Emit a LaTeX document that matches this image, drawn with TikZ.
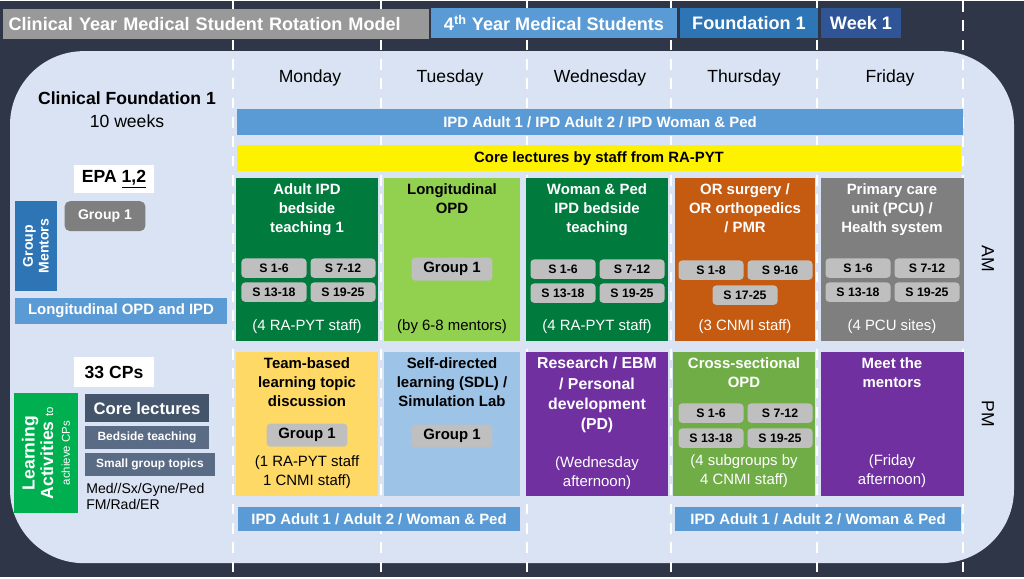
\documentclass[tikz,border=0pt]{standalone}
\usepackage{fontspec}
\setmainfont{Liberation Sans}
\definecolor{bgdark}{HTML}{2E3648}
\definecolor{panel}{HTML}{DAE3F3}
\definecolor{lblue}{HTML}{5B9BD5}
\definecolor{mblue}{HTML}{2E75B6}
\definecolor{dblue}{HTML}{2F5597}
\definecolor{dgreen}{HTML}{007A3D}
\definecolor{lgreen}{HTML}{92D050}
\definecolor{orng}{HTML}{C55A11}
\definecolor{gry}{HTML}{7F7F7F}
\definecolor{ylw}{HTML}{FFD966}
\definecolor{pblue}{HTML}{9DC3E6}
\definecolor{purp}{HTML}{7030A0}
\definecolor{mgreen}{HTML}{70AD47}
\definecolor{badge}{HTML}{BFBFBF}
\definecolor{slate}{HTML}{44546A}
\definecolor{slate2}{HTML}{5A6B85}
\definecolor{lagreen}{HTML}{00B050}
\begin{document}
\begin{tikzpicture}[x=0.02cm,y=-0.02cm,
    every node/.style={align=center,inner sep=0pt},
    bar/.style={fill=lblue,text=white,font=\fontsize{8.5}{10}\selectfont\bfseries},
    title/.style={anchor=north,font=\fontsize{8.5}{10.8}\selectfont\bfseries},
    note/.style={font=\fontsize{8.5}{10.8}\selectfont},
    sbadge/.style={fill=badge,rounded corners=2pt,minimum width=37pt,minimum height=11pt,font=\fontsize{7}{8}\selectfont\bfseries},
    gbadge/.style={fill=badge,rounded corners=2pt,minimum width=46pt,minimum height=13pt,font=\fontsize{8.5}{10}\selectfont\bfseries},
    dayname/.style={font=\fontsize{10}{11}\selectfont},
    head/.style={text=white,font=\fontsize{10.3}{11}\selectfont\bfseries,minimum height=17pt}]
  % background and panel
  \fill[bgdark] (0,0) rectangle (1024,576);
  \fill[panel,rounded corners=42pt] (10,50) rectangle (1014,562);
  \foreach \x in {233,381,527,671,817,963}
    \draw[white,line width=1.3pt,dash pattern=on 6pt off 5pt] (\x,0) -- (\x,576);

  % header
  \node[head,fill=gry!80,anchor=west,minimum width=242pt,text width=236pt,align=left] (hdr) at (3,23) {Clinical Year Medical Student Rotation Model};
  \node[head,fill=lblue,minimum width=140pt] (yr) at (554,22) {4\textsuperscript{th} Year Medical Students};
  \node[head,fill=mblue,minimum width=78pt] (fd) at (749,22) {Foundation 1};
  \node[head,fill=dblue,minimum width=46pt] (wk) at (861,22) {Week 1};

  % days
  \node[dayname] (mon) at (310,77) {Monday};
  \node[dayname] (tue) at (450,77) {Tuesday};
  \node[dayname] (wed) at (600,77) {Wednesday};
  \node[dayname] (thu) at (744,77) {Thursday};
  \node[dayname] (fri) at (890,77) {Friday};

  % left side
  \node[font=\fontsize{10}{11}\selectfont\bfseries] (cf) at (127,97) {Clinical Foundation 1};
  \node[dayname] (wks) at (127,120) {10 weeks};
  \node[fill=white,minimum width=46pt,minimum height=16pt,font=\fontsize{10}{11}\selectfont\bfseries] (epa) at (114,178) {EPA \underline{1,2}};
  \node[fill=gry,text=white,rounded corners=3pt,minimum width=46pt,minimum height=17pt,font=\fontsize{8}{10}\selectfont\bfseries] (grp) at (105,215) {Group 1};
  \node[fill=mblue,text=white,rotate=90,minimum width=51pt,minimum height=24pt,font=\fontsize{8}{9}\selectfont\bfseries] (gm) at (36,245) {Group\\Mentors};
  \node[bar,fill=lblue,minimum width=121pt,minimum height=15pt] (lopd) at (121,310) {Longitudinal OPD and IPD};
  \node[fill=white,minimum width=45pt,minimum height=17pt,font=\fontsize{10}{11}\selectfont\bfseries] (cps) at (114,371) {33 CPs};
  \node[fill=lagreen,text=white,rotate=90,minimum width=68pt,minimum height=36pt,font=\fontsize{10}{10.5}\selectfont\bfseries] (la) at (46,452)
    {Learning\\Activities {\fontsize{6.5}{7}\selectfont\mdseries to}\\[-1pt]{\fontsize{6.5}{7}\selectfont\mdseries achieve CPs}};
  \node[fill=slate,text=white,minimum width=71pt,minimum height=16pt,font=\fontsize{9.5}{10}\selectfont\bfseries] (cl) at (147,407) {Core lectures};
  \node[fill=slate2,text=white,minimum width=71pt,minimum height=13pt,font=\fontsize{6.8}{8}\selectfont\bfseries] (bt) at (147,436) {Bedside teaching};
  \node[fill=slate2,text=white,minimum width=74pt,minimum height=13pt,font=\fontsize{6.8}{8}\selectfont\bfseries] (sg) at (150,463) {Small group topics};
  \node[anchor=north west,align=left,font=\fontsize{8}{8.8}\selectfont] (spec) at (86,482) {Med//Sx/Gyne/Ped\\FM/Rad/ER};

  % bars
  \node[bar,minimum width=413pt,minimum height=15pt] (ipd) at (600,121) {IPD Adult 1 / IPD Adult 2 / IPD Woman \& Ped};
  \node[fill=yellow,font=\fontsize{8.5}{10}\selectfont\bfseries,minimum width=412pt,minimum height=15pt] (core) at (599,157) {Core lectures by staff from RA-PYT};
  \node[bar,minimum width=160pt,minimum height=14pt] (ipd2) at (379,518) {IPD Adult 1 / Adult 2 / Woman \& Ped};
  \node[bar,minimum width=163pt,minimum height=14pt] (ipd3) at (818,518) {IPD Adult 1 / Adult 2 / Woman \& Ped};

  % AM boxes
  \fill[dgreen] (236,177) rectangle (378,340);
  \fill[lgreen] (384,177) rectangle (520,340);
  \fill[dgreen] (526,177) rectangle (668,340);
  \fill[orng] (675,177) rectangle (815,340);
  \fill[gry] (821,177) rectangle (964,340);
  \node[title,text=white] (t1) at (307,182) {Adult IPD\\bedside\\teaching 1};
  \node[title] (t2) at (452,182) {Longitudinal\\OPD};
  \node[title,text=white] (t3) at (597,182) {Woman \& Ped\\IPD bedside\\teaching};
  \node[title,text=white] (t4) at (745,182) {OR surgery /\\OR orthopedics\\/ PMR};
  \node[title,text=white] (t5) at (892,182) {Primary care\\unit (PCU) /\\Health system};
  \node[sbadge] (a1) at (274,267) {S 1-6};
  \node[sbadge] (a2) at (343,267) {S 7-12};
  \node[sbadge] (a3) at (274,291) {S 13-18};
  \node[sbadge] (a4) at (343,291) {S 19-25};
  \node[gbadge] (b1) at (452,268) {Group 1};
  \node[sbadge] (c1) at (563,268) {S 1-6};
  \node[sbadge] (c2) at (632,268) {S 7-12};
  \node[sbadge] (c3) at (563,292) {S 13-18};
  \node[sbadge] (c4) at (632,292) {S 19-25};
  \node[sbadge] (d1) at (711,269) {S 1-8};
  \node[sbadge] (d2) at (780,269) {S 9-16};
  \node[sbadge] (d3) at (745,294) {S 17-25};
  \node[sbadge] (e1) at (858,267) {S 1-6};
  \node[sbadge] (e2) at (927,267) {S 7-12};
  \node[sbadge] (e3) at (858,291) {S 13-18};
  \node[sbadge] (e4) at (927,291) {S 19-25};
  \node[note,text=white] (n1) at (307,325) {(4 RA-PYT staff)};
  \node[note] (n2) at (452,325) {(by 6-8 mentors)};
  \node[note,text=white] (n3) at (597,325) {(4 RA-PYT staff)};
  \node[note,text=white] (n4) at (745,325) {(3 CNMI staff)};
  \node[note,text=white] (n5) at (892,325) {(4 PCU sites)};

  % PM boxes
  \fill[ylw] (236,351) rectangle (378,495);
  \fill[pblue] (384,351) rectangle (520,495);
  \fill[purp] (526,351) rectangle (668,495);
  \fill[mgreen] (673,351) rectangle (815,495);
  \fill[purp] (821,351) rectangle (964,495);
  \node[title] (p1) at (307,356) {Team-based\\learning topic\\discussion};
  \node[title] (p2) at (452,356) {Self-directed\\learning (SDL) /\\Simulation Lab};
  \node[title,text=white,font=\fontsize{9}{11.5}\selectfont\bfseries] (p3) at (597,356) {Research / EBM\\/ Personal\\development\\(PD)};
  \node[title,text=white] (p4) at (744,356) {Cross-sectional\\OPD};
  \node[title,text=white] (p5) at (892,356) {Meet the\\mentors};
  \node[gbadge] (f1) at (307,434) {Group 1};
  \node[gbadge] (g1) at (452,435) {Group 1};
  \node[sbadge] (h1) at (711,412) {S 1-6};
  \node[sbadge] (h2) at (780,412) {S 7-12};
  \node[sbadge] (h3) at (711,437) {S 13-18};
  \node[sbadge] (h4) at (780,437) {S 19-25};
  \node[note] (m1) at (307,471) {(1 RA-PYT staff\\1 CNMI staff)};
  \node[note,text=white] (m3) at (597,472) {(Wednesday\\afternoon)};
  \node[note,text=white] (m4) at (744,470) {(4 subgroups by\\4 CNMI staff)};
  \node[note,text=white] (m5) at (892,470) {(Friday\\afternoon)};

  % AM / PM
  \node[dayname,rotate=-90] (am) at (988,258) {AM};
  \node[dayname,rotate=-90] (pm) at (988,413) {PM};
\end{tikzpicture}
\end{document}
